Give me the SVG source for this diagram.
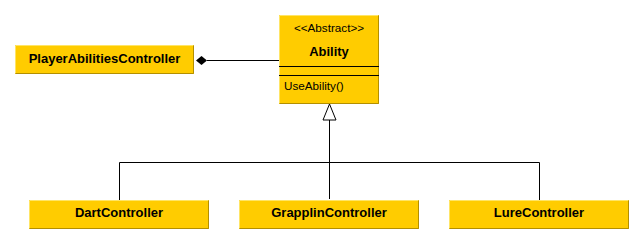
<svg xmlns="http://www.w3.org/2000/svg" width="644" height="245" viewBox="0 0 644 245">
  <style>
    .box { fill: #ffcc00; }
    .hi { stroke: #ffe566; stroke-width: 1; fill: none; }
    .lo { stroke: #b38f00; stroke-width: 1; fill: none; }
    .sep { stroke: #000; stroke-width: 1; }
    .name { font-family: "Liberation Sans", Arial, sans-serif; font-size: 13px; font-weight: bold; fill: #000; text-anchor: middle; }
    .small { font-family: "Liberation Sans", Arial, sans-serif; font-size: 11.7px; fill: #000; }
    .edge { stroke: #000; stroke-width: 1; fill: none; }
  </style>
  <rect width="644" height="245" fill="#ffffff"/>

  <g id="connectors">
    <!-- composition: PlayerAbilitiesController owns Ability -->
    <line class="edge" x1="207" y1="60.5" x2="279" y2="60.5"/>
    <polygon points="196,60.5 201.5,56 207,60.5 201.5,65" fill="#000"/>
    <!-- generalization tree to Ability -->
    <polyline class="edge" points="119.5,200 119.5,162.5 539.5,162.5 539.5,200"/>
    <line class="edge" x1="329.5" y1="120" x2="329.5" y2="199"/>
    <polygon points="329.5,104 323,120 336,120" fill="#fff" stroke="#000" stroke-width="1"/>
  </g>

  <g id="PlayerAbilitiesController">
    <rect class="box" x="15" y="45" width="179" height="29"/>
    <path class="hi" d="M15.5,73.5 V45.5 H193.5"/>
    <path class="lo" d="M193.5,45.5 V73.5 H15.5"/>
    <text class="name" x="104.5" y="63">PlayerAbilitiesController</text>
  </g>

  <g id="Ability">
    <rect class="box" x="279" y="15" width="100" height="89"/>
    <path class="hi" d="M279.5,103.5 V15.5 H378.5"/>
    <path class="lo" d="M378.5,15.5 V103.5 H279.5"/>
    <line class="sep" x1="279" y1="66.5" x2="379" y2="66.5"/>
    <line class="sep" x1="279" y1="75.5" x2="379" y2="75.5"/>
    <text class="small" x="329" y="32" text-anchor="middle">&lt;&lt;Abstract&gt;&gt;</text>
    <text class="name" x="329" y="56">Ability</text>
    <text class="small" x="284" y="90">UseAbility()</text>
  </g>

  <g id="DartController">
    <rect class="box" x="29" y="200" width="180" height="29"/>
    <path class="hi" d="M29.5,228.5 V200.5 H208.5"/>
    <path class="lo" d="M208.5,200.5 V228.5 H29.5"/>
    <text class="name" x="119" y="217">DartController</text>
  </g>

  <g id="GrapplinController">
    <rect class="box" x="239" y="200" width="180" height="29"/>
    <path class="hi" d="M239.5,228.5 V200.5 H418.5"/>
    <path class="lo" d="M418.5,200.5 V228.5 H239.5"/>
    <text class="name" x="329" y="217">GrapplinController</text>
  </g>

  <g id="LureController">
    <rect class="box" x="449" y="200" width="180" height="29"/>
    <path class="hi" d="M449.5,228.5 V200.5 H628.5"/>
    <path class="lo" d="M628.5,200.5 V228.5 H449.5"/>
    <text class="name" x="539" y="217">LureController</text>
  </g>
</svg>
